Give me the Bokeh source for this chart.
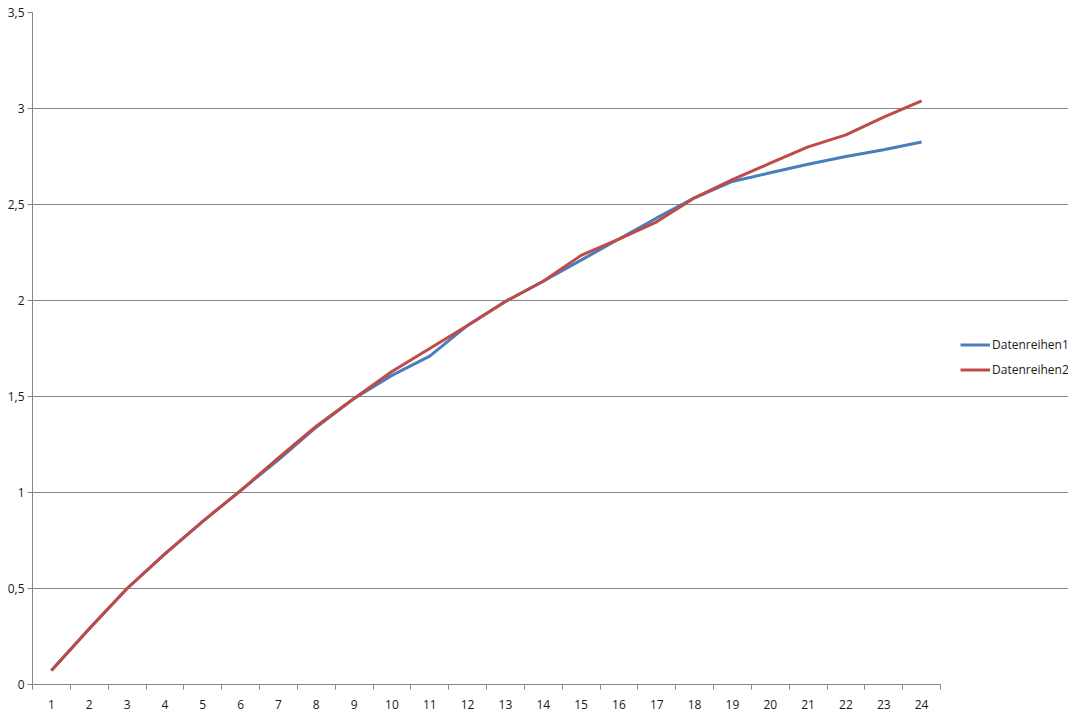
from bokeh.plotting import figure
from bokeh.models import FixedTicker, CustomJSTickFormatter, Legend, LegendItem, Range1d
from bokeh.embed import file_html
from bokeh.resources import INLINE

categories = list(range(1, 25))
tick_labels = [str(c) for c in categories]
series1 = [0.073, 0.29, 0.50, 0.68, 0.85, 1.01, 1.17, 1.34, 1.49, 1.61, 1.71, 1.87,
           1.995, 2.10, 2.21, 2.32, 2.43, 2.535, 2.62, 2.665, 2.71, 2.75, 2.785, 2.826]
series2 = [0.073, 0.29, 0.50, 0.68, 0.85, 1.01, 1.18, 1.345, 1.49, 1.63, 1.75, 1.87,
           1.995, 2.10, 2.235, 2.32, 2.41, 2.535, 2.63, 2.715, 2.80, 2.863, 2.955, 3.04]
series_names = ["Datenreihen1", "Datenreihen2"]
colors = ["#4A7EBB", "#BE4B48"]
y_ticks = [0, 0.5, 1, 1.5, 2, 2.5, 3, 3.5]

FONT = "Open Sans"
GRID = "#868686"

PLOT_W = 908      # width of the plotted category area
FRAME_W = 1036    # frame also holds the legend on the right
x_lo = categories[0] - 0.5
x_hi_cat = categories[-1] + 0.5
x_hi = x_lo + (x_hi_cat - x_lo) * FRAME_W / PLOT_W

p = figure(frame_width=FRAME_W, frame_height=672, output_backend="svg", toolbar_location=None,
           x_range=Range1d(x_lo, x_hi), y_range=Range1d(0, 3.5),
           min_border_left=32, min_border_top=12, min_border_right=0, min_border_bottom=26)
p.outline_line_color = None
p.background_fill_color = "white"
p.border_fill_color = "white"

# x axis: labels at category centres, tick marks between categories
p.xaxis.ticker = FixedTicker(ticks=categories, minor_ticks=[c - 0.5 for c in categories] + [x_hi_cat])
p.xaxis.major_label_overrides = {c: l for c, l in zip(categories, tick_labels)}
p.xaxis.bounds = (x_lo, x_hi_cat)
p.xaxis.major_tick_out = 0
p.xaxis.major_tick_in = 0
p.xaxis.minor_tick_out = 5
p.xaxis.minor_tick_in = 0
p.xaxis.minor_tick_line_color = GRID
p.xaxis.axis_line_color = GRID
p.xaxis.major_label_standoff = 10
p.xgrid.visible = False

p.yaxis.ticker = FixedTicker(ticks=y_ticks)
p.yaxis.formatter = CustomJSTickFormatter(code="return tick.toString().replace('.', ',');")
p.yaxis.major_tick_out = 5
p.yaxis.major_tick_in = 0
p.yaxis.minor_tick_out = 0
p.yaxis.minor_tick_in = 0
p.yaxis.major_tick_line_color = GRID
p.yaxis.axis_line_color = GRID
p.yaxis.major_label_standoff = 3
p.ygrid.ticker = FixedTicker(ticks=y_ticks)
p.ygrid.bounds = (x_lo, x_hi_cat)
p.ygrid.grid_line_color = GRID
p.ygrid.grid_line_width = 1

for ax in (p.xaxis, p.yaxis):
    ax.major_label_text_font = FONT
    ax.major_label_text_font_size = "12px"
    ax.major_label_text_color = "#1a1a1a"

renderers = []
for vals, c in zip([series1, series2], colors):
    r = p.line(categories, vals, line_color=c, line_width=3)
    renderers.append(r)

legend = Legend(items=[LegendItem(label=n, renderers=[r]) for n, r in zip(series_names, renderers)],
                location=(928, 306), border_line_color=None, background_fill_alpha=0,
                label_text_font=FONT, label_text_font_size="12px", label_text_color="#1a1a1a",
                glyph_width=30, glyph_height=13, label_height=13, label_standoff=2,
                spacing=8, padding=0, margin=0)
p.add_layout(legend)

open("out.html", "w").write(file_html(p, INLINE))
